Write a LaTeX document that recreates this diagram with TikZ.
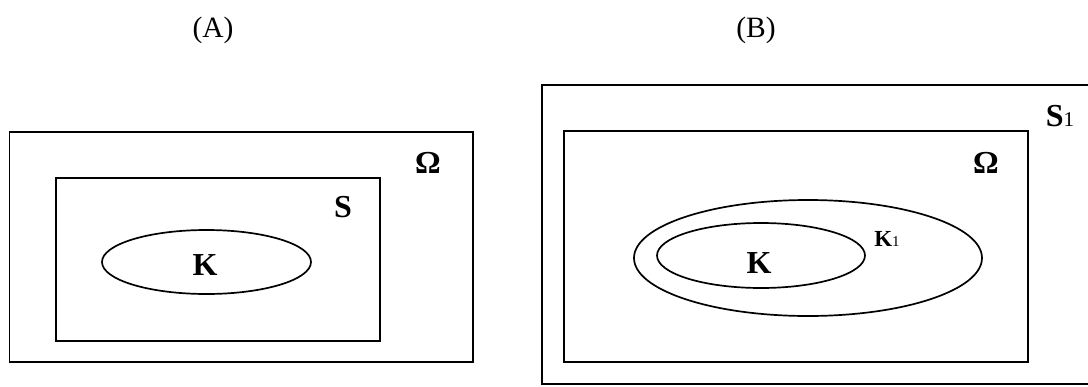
\documentclass[tikz,border=0pt]{standalone}
\usepackage{fontspec}
\setmainfont{Liberation Serif}
\usetikzlibrary{shapes.geometric}
\begin{document}
\begin{tikzpicture}[x=1pt,y=-1pt,
  box/.style={draw,line width=1.9pt,rectangle,inner sep=0pt,outer sep=0pt},
  oval/.style={draw,line width=1.7pt,ellipse,inner sep=0pt,outer sep=0pt},
  lbl/.style={inner sep=0pt,font=\fontsize{32}{33}\selectfont\bfseries},
  ttl/.style={inner sep=0pt,font=\fontsize{29.5}{30}\selectfont}]
\clip (0,0) rectangle (1088,386);
\fill[white] (0,0) rectangle (1088,386);
% (A)
\node[ttl] (tA) at (213,30) {(A)};
\node[box,minimum width=463.5pt,minimum height=230pt] (OmA) at (241.25,247) {};
\node[box,minimum width=324pt,minimum height=163pt] (SA) at (218,259.5) {};
\node[oval,minimum width=209pt,minimum height=64pt] (KA) at (206.5,262) {};
\node[lbl] (lOmA) at (428,163) {Ω};
\node[lbl] (lSA) at (343,207) {S};
\node[lbl] (lKA) at (205,265) {K};
% (B)
\node[ttl] (tB) at (756,30) {(B)};
\node[box,minimum width=560pt,minimum height=299pt] (SB) at (821.7,234.5) {};
\node[box,minimum width=464pt,minimum height=231pt] (OmB) at (796,246.5) {};
\node[oval,minimum width=348pt,minimum height=116pt] (K1B) at (808,258) {};
\node[oval,minimum width=208pt,minimum height=65pt] (KB) at (761,255.5) {};
\node[lbl] (lOmB) at (986,163) {Ω};
\node[inner sep=0pt,anchor=base] (lSB) at (1060,126) {{\fontsize{32}{33}\selectfont\bfseries S}{\fontsize{21}{22}\selectfont 1}};
\node[lbl] (lKB) at (759,263) {K};
\node[inner sep=0pt,anchor=base] (lK1B) at (887,246) {{\fontsize{23}{24}\selectfont\bfseries K}{\fontsize{15}{16}\selectfont 1}};
\end{tikzpicture}
\end{document}
